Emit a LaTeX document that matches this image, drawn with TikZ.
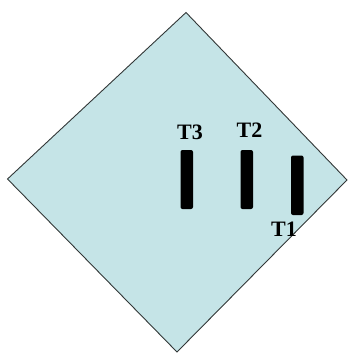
\documentclass[tikz,border=0pt]{standalone}
\usepackage{fontspec}
\setmainfont{Liberation Serif}
\definecolor{fillblue}{RGB}{197,228,231}
\definecolor{edgegray}{RGB}{50,55,55}
\begin{document}
\begin{tikzpicture}[x=1pt,y=-1pt,
  bar/.style={fill=black,rounded corners=2pt,draw=none},
  lbl/.style={font=\fontsize{22}{22}\selectfont\bfseries,inner sep=0pt}]
\useasboundingbox (0,0) rectangle (348,353);
\draw[fill=fillblue,draw=edgegray,line width=0.9pt] (186,12.5) -- (347,180) -- (177,352) -- (7.5,179) -- cycle;
\path[bar] (180.5,150) rectangle (193,209);
\path[bar] (240.5,150) rectangle (253,209);
\path[bar] (291,155.5) rectangle (303.5,215);
\node[lbl] (t3) at (190,132) {T3};
\node[lbl] (t2) at (249.5,130) {T2};
\node[lbl] (t1) at (284,229) {T1};
\end{tikzpicture}
\end{document}
